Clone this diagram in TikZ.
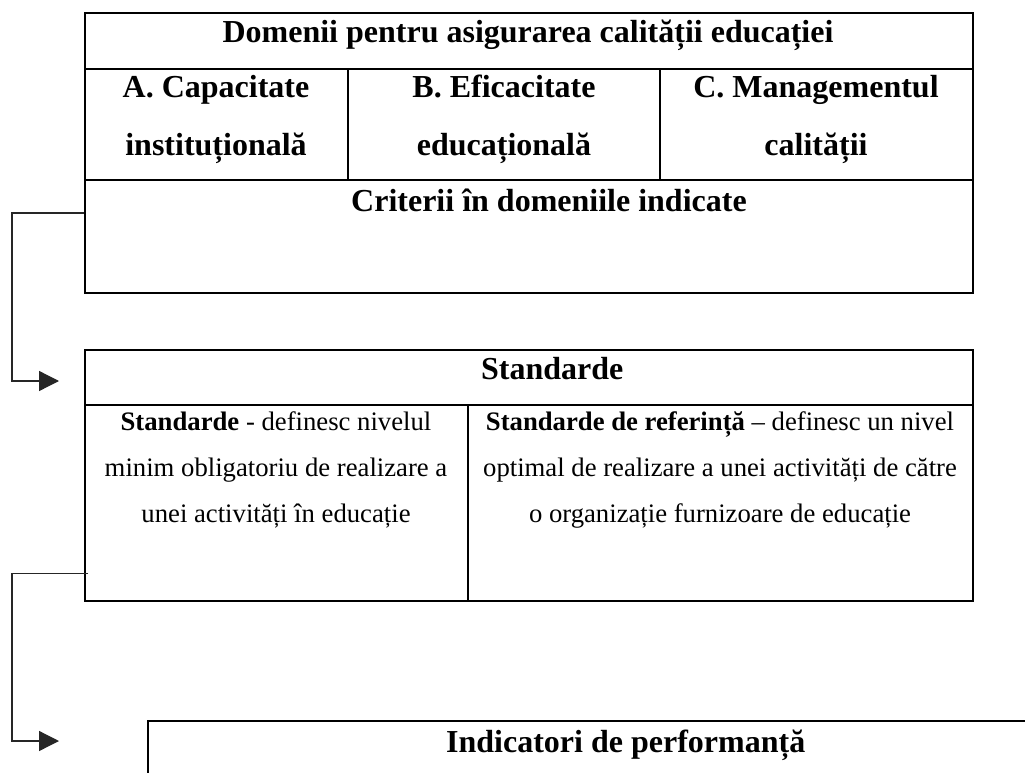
\documentclass[tikz,border=0pt]{standalone}
\usepackage{fontspec}
\setmainfont{Liberation Serif}
\usetikzlibrary{arrows.meta}
\tikzset{
  tbox/.style={draw=black, line width=1.8pt, inner sep=0pt, anchor=north west},
  rule/.style={draw=black, line width=1.8pt},
  ttl/.style={font=\fontsize{32}{38}\selectfont\bfseries, inner sep=0pt, anchor=base},
  bod/.style={font=\fontsize{26.7}{32}\selectfont, inner sep=0pt, anchor=base},
  conn/.style={draw=black!85, line width=1.3pt},
  arr/.style={conn, -{Triangle[length=20pt,width=20pt]}}
}
\begin{document}
\begin{tikzpicture}[x=1pt,y=-1pt]
\useasboundingbox (0,0) rectangle (1025,773);
\clip (0,0) rectangle (1025,773);
\fill[white] (0,0) rectangle (1025,773);

% ---- top table
\node[tbox, minimum width=888pt, minimum height=280pt] (top) at (84,12) {};
\draw[rule] (84,69) -- (972,69);
\draw[rule] (84,180) -- (972,180);
\draw[rule] (348,69) -- (348,180);
\draw[rule] (660,69) -- (660,180);
\node[ttl] (dom) at (528,43) {Domenii pentru asigurarea calității educației};
\node[ttl] (a1t) at (216,98) {A. Capacitate};
\node[ttl] (a2t) at (216,155) {instituțională};
\node[ttl] (b1t) at (504,98) {B. Eficacitate};
\node[ttl] (b2t) at (504,155) {educațională};
\node[ttl] (c1t) at (816,98) {C. Managementul};
\node[ttl] (c2t) at (816,155) {calității};
\node[ttl, anchor=base west] (crit) at (351,211) {Criterii în domeniile indicate};

% ---- middle table
\node[tbox, minimum width=888pt, minimum height=251pt] (mid) at (84,349) {};
\draw[rule] (84,405) -- (972,405);
\draw[rule] (468,405) -- (468,600);
\node[ttl, anchor=base west] (std) at (481,379) {Standarde};
\node[bod] (l1) at (276,430) {\textbf{Standarde} - definesc nivelul};
\node[bod] (l2) at (276,476) {minim obligatoriu de realizare a};
\node[bod] (l3) at (276,522) {unei activități în educație};
\node[bod] (r1) at (720,430) {\textbf{Standarde de referință} – definesc un nivel};
\node[bod] (r2) at (720,476) {optimal de realizare a unei activități de către};
\node[bod] (r3) at (720,522) {o organizație furnizoare de educație};

% ---- bottom box (runs off the page)
\node[tbox, minimum width=950pt, minimum height=120pt] (ind) at (147,720) {};
\node[ttl, anchor=base west] (indt) at (446,752) {Indicatori de performanță};

% ---- connectors
\coordinate (e1) at (59,381);
\coordinate (e2) at (59,741);
\draw[arr] (top.north west) ++(0,201) -- ++(-72,0) |- (e1);
\draw[arr] (mid.south west) ++(4,-28) -- ++(-76,0) |- (e2);
\end{tikzpicture}
\end{document}
